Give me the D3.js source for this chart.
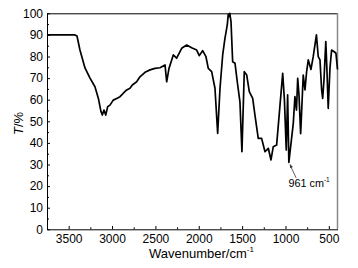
<!DOCTYPE html>
<html><head><meta charset="utf-8">
<script src="https://cdn.jsdelivr.net/npm/d3@7"></script>
<style>body{margin:0;background:#fff}svg{display:block}text{font-family:Arial,"Liberation Sans",sans-serif}</style>
</head><body><svg id="c" width="358" height="268"></svg>
<script>
const wavenumbers = [3750,3427,3404,3370,3312,3254,3197,3158,3127,3112,3093,3073,3050,3024,2986,2946,2908,2870,2831,2793,2766,2716,2678,2620,2562,2505,2447,2389,2370,2343,2312,2294,2255,2197,2139,2082,2024,1994,1955,1917,1890,1851,1813,1782,1755,1724,1698,1671,1660,1650,1642,1628,1609,1582,1556,1525,1502,1475,1447,1417,1378,1352,1314,1275,1236,1198,1167,1141,1102,1063,1032,1012,991,975,961,910,891,873,859,844,825,795,775,756,737,706,680,643,622,602,583,571,556,535,522,507,487,468,438,418,400];
const transmittance = [90,90,89.5,83,74.7,70,66,60.7,54.4,52.9,55.2,52.9,56.8,57.5,59.8,60.6,61.4,63,64.5,65.3,66.8,68.3,70.6,72.7,73.8,74.5,74.8,76.1,68.3,74.5,78.4,80.7,79.2,83.8,85.3,84.1,83,80.4,82.7,79.9,74.5,73,65.3,44.4,65.3,80.7,88.4,94.6,99.5,98.5,100,96.1,77.6,76.9,68.3,59,35.9,73,71.4,63.7,60.6,52.9,42.1,42.1,35.9,37.5,32.1,38.2,39,57.5,72.2,59.8,36.7,62.2,31,49,61.4,55.2,69.9,62,44.3,71.4,64.5,73,78.4,74,79.9,90,79.9,78.4,64.5,60.6,69,86.9,74,56,74.5,83,82.2,81.5,74];
const xTicks = [3500,3000,2500,2000,1500,1000,500];
const xMinorTicks = [3250,2750,2250,1750,1250,750];
const yTicks = [0,10,20,30,40,50,60,70,80,90,100];
const yMinorTicks = [5,15,25,35,45,55,65,75,85,95];
const annotationWavenumber = 961;
const annotationT = 31;

const svg = d3.select("#c");
const L = 47, R = 337.5, T = 13.3, B = 229.3;
const x = d3.scaleLinear().domain([3750, 400]).range([L, R]);
const y = d3.scaleLinear().domain([0, 100]).range([B, T]);
const fmt = d3.format("d");

// frame top & right
svg.append("line").attr("x1", L).attr("x2", R).attr("y1", T + 0.5).attr("y2", T + 0.5).attr("stroke", "#000").attr("stroke-width", 1);
svg.append("line").attr("x1", R).attr("x2", R).attr("y1", T).attr("y2", B).attr("stroke", "#888").attr("stroke-width", 1.5);

// x axis
const gx = svg.append("g").attr("transform", `translate(0,${B})`)
  .call(d3.axisBottom(x).tickValues(xTicks).tickFormat(fmt).tickSizeInner(-3.3).tickSizeOuter(0).tickPadding(5));
gx.append("g").call(d3.axisBottom(x).tickValues(xMinorTicks).tickSizeInner(-2).tickSizeOuter(0).tickFormat(""))
  .select(".domain").remove();
gx.selectAll("text").attr("font-size", 12).attr("fill", "#000").attr("font-family", "Arial, 'Liberation Sans', sans-serif");

// y axis
const gy = svg.append("g").attr("transform", `translate(${L},0)`)
  .call(d3.axisLeft(y).tickValues(yTicks).tickFormat(fmt).tickSizeInner(-3).tickSizeOuter(0).tickPadding(4));
gy.append("g").call(d3.axisLeft(y).tickValues(yMinorTicks).tickSizeInner(-2).tickSizeOuter(0).tickFormat(""))
  .select(".domain").remove();
gy.selectAll("text").attr("font-size", 12).attr("fill", "#000").attr("font-family", "Arial, 'Liberation Sans', sans-serif");
svg.selectAll(".domain, .tick line").attr("stroke", "#000");

// spectrum
const data = wavenumbers.map((w, i) => [w, transmittance[i]]);
svg.append("path").datum(data)
  .attr("fill", "none").attr("stroke", "#000").attr("stroke-width", 1.7).attr("stroke-linejoin", "round")
  .attr("d", d3.line().x(d => x(d[0])).y(d => y(d[1])));

// titles
const xt = svg.append("text").attr("x", 149).attr("y", 258).attr("font-size", 13).attr("fill", "#000");
xt.append("tspan").text("Wavenumber/cm");
xt.append("tspan").attr("font-size", 8).attr("dy", -6).text("-1");

const yt = svg.append("text").attr("transform", `translate(23,123.5) rotate(-90)`).attr("text-anchor", "middle").attr("font-size", 13).attr("fill", "#000");
yt.append("tspan").attr("font-style", "italic").text("T");
yt.append("tspan").text("/%");

// annotation
const ax = x(annotationWavenumber) + 0.8, ay = y(annotationT) + 1.5;
svg.append("line").attr("x1", ax + 6.5).attr("y1", ay + 14).attr("x2", ax + 1).attr("y2", ay + 2.5)
  .attr("stroke", "#333").attr("stroke-width", 0.8);
svg.append("path").attr("d", `M${ax},${ay} l3.2,3.2 l-2.6,1.2 z`).attr("fill", "#333");
const at = svg.append("text").attr("x", 288.5).attr("y", 186.7).attr("font-size", 10.8).attr("fill", "#000");
at.append("tspan").text("961 cm");
at.append("tspan").attr("font-size", 6.5).attr("dy", -5).text("-1");
</script></body></html>
